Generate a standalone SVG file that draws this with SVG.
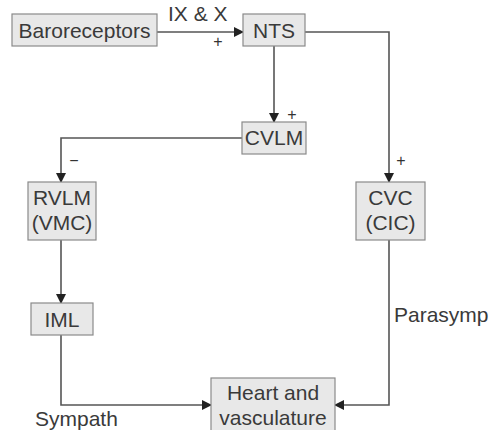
<svg xmlns="http://www.w3.org/2000/svg" width="491" height="430" viewBox="0 0 491 430">
<style>
.box{fill:#e8e8e8;stroke:#8a8a8a;stroke-width:1.2}
.t{font-family:"Liberation Sans",Arial,sans-serif;font-size:21px;fill:#3a3a3a;text-anchor:middle}
.l{font-family:"Liberation Sans",Arial,sans-serif;font-size:21px;fill:#3a3a3a}
.s{font-family:"Liberation Sans",Arial,sans-serif;font-size:16px;fill:#333;text-anchor:middle}
.c{fill:none;stroke:#555;stroke-width:1.6}
</style>
<defs>
<marker id="ah" markerWidth="10" markerHeight="10" refX="9" refY="5" orient="auto" markerUnits="userSpaceOnUse">
<path d="M0,0 L10,5 L0,10 z" fill="#222"/>
</marker>
</defs>
<rect width="491" height="430" fill="#fff"/>
<g id="connectors">
<path class="c" d="M157,32 H243" marker-end="url(#ah)"/>
<path class="c" d="M274,46 V122" marker-end="url(#ah)"/>
<path class="c" d="M305,32 H389 V182" marker-end="url(#ah)"/>
<path class="c" d="M242,138 H61 V182" marker-end="url(#ah)"/>
<path class="c" d="M61,240 V303" marker-end="url(#ah)"/>
<path class="c" d="M61,335 V405 H211" marker-end="url(#ah)"/>
<path class="c" d="M389,240 V405 H335" marker-end="url(#ah)"/>
<text class="l" x="168" y="21">IX &amp; X</text>
<text class="s" x="218" y="47">+</text>
<text class="s" x="292" y="120">+</text>
<text class="s" x="401" y="166">+</text>
<text class="s" x="74" y="166">−</text>
<text class="l" x="394" y="322">Parasymp</text>
<text class="l" x="35" y="426">Sympath</text>
</g>
<g id="baroreceptors">
<rect class="box" x="12" y="14" width="145" height="32"/>
<text class="t" x="84.5" y="38">Baroreceptors</text>
</g>
<g id="nts">
<rect class="box" x="243" y="14" width="62" height="32"/>
<text class="t" x="274" y="38">NTS</text>
</g>
<g id="cvlm">
<rect class="box" x="242" y="122" width="64" height="32"/>
<text class="t" x="274" y="145">CVLM</text>
</g>
<g id="rvlm">
<rect class="box" x="28" y="182" width="68" height="58"/>
<text class="t" x="62" y="205">RVLM</text>
<text class="t" x="62" y="230">(VMC)</text>
</g>
<g id="cvc">
<rect class="box" x="356" y="182" width="69" height="58"/>
<text class="t" x="390.5" y="205">CVC</text>
<text class="t" x="390.5" y="230">(CIC)</text>
</g>
<g id="iml">
<rect class="box" x="31" y="303" width="62" height="32"/>
<text class="t" x="62" y="327">IML</text>
</g>
<g id="heart">
<rect class="box" x="211" y="378" width="124" height="56"/>
<text class="t" x="273" y="400">Heart and</text>
<text class="t" x="273" y="425">vasculature</text>
</g>
</svg>
